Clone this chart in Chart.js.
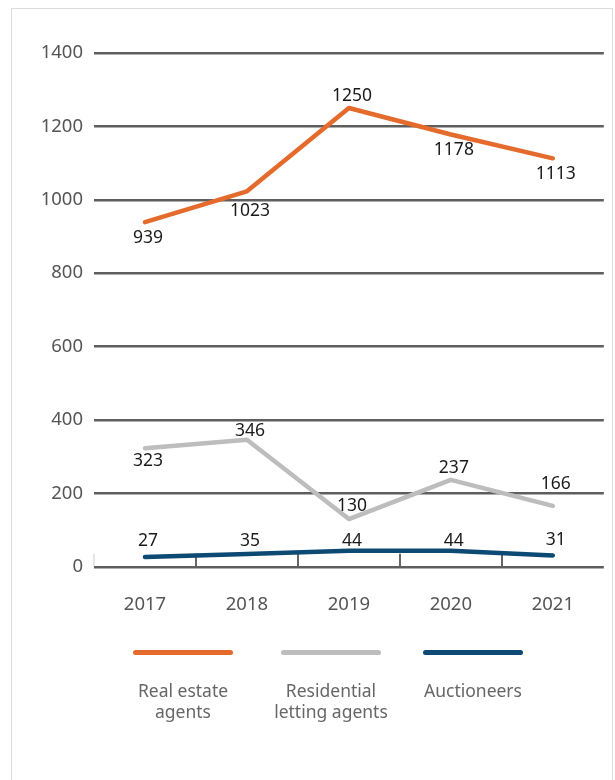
<!DOCTYPE html>
<html>
<head>
<meta charset="utf-8">
<script src="https://cdn.jsdelivr.net/npm/chart.js@4.4.0/dist/chart.umd.min.js"></script>
<style>
  html, body { margin: 0; padding: 0; background: #fff; }
  body { width: 615px; height: 780px; position: relative; overflow: hidden; font-family: "Noto Sans", sans-serif; }
  .frame {
    position: absolute; left: 11px; top: 8px; width: 602px; height: 790px;
    border: 1px solid #dcdcdc; box-sizing: border-box;
  }
  .plot { position: absolute; left: 0; top: 0; width: 602px; height: 647px; }
  .legend { position: absolute; left: 0; top: 0; width: 615px; height: 780px; pointer-events: none; }
  .legend-item { position: absolute; top: 650px; width: 170px; text-align: center; }
  .legend-item .swatch { width: 100px; height: 5px; border-radius: 3px; margin: 0 auto; }
  .legend-item .name { margin-top: 25px; font-size: 17.5px; line-height: 21px; color: #666; }
</style>
</head>
<body>
<div class="frame">
  <div class="plot"><canvas id="chart"></canvas></div>
</div>
<div class="legend" id="legend"></div>

<script>
// ---------- Data ----------

const years = ['2017', '2018', '2019', '2020', '2021'];

const realEstateAgents   = [939, 1023, 1250, 1178, 1113];
const lettingAgents      = [323, 346, 130, 237, 166];
const auctioneers        = [27, 35, 44, 44, 31];

const seriesNames = [
  ['Real estate', 'agents'],
  ['Residential', 'letting agents'],
  ['Auctioneers'],
];

const yTicks = [0, 200, 400, 600, 800, 1000, 1200, 1400];

// ---------- Style ----------

const COLORS = ['#e46b2c', '#bdbdbd', '#0c4a73'];
const LEGEND_CENTERS = [183, 331, 473];

// vertical nudge (px) of each value label from its point
const labelShift = [
  [16, 20, -12, 16, 16],
  [13, -9, -13, -12, -22],
  [-16, -13, -10, -10, -15],
];

// ---------- Value labels ----------

const valueLabels = {
  id: 'valueLabels',
  afterDatasetsDraw(chart) {
    const { ctx } = chart;
    ctx.save();
    ctx.font = '17.5px "Noto Sans", sans-serif';
    ctx.fillStyle = '#1a1a1a';
    ctx.textAlign = 'center';
    ctx.textBaseline = 'middle';
    chart.data.datasets.forEach((ds, di) => {
      const meta = chart.getDatasetMeta(di);
      meta.data.forEach((pt, i) => {
        ctx.fillText(String(ds.data[i]), pt.x + 3, pt.y + labelShift[di][i]);
      });
    });
    ctx.restore();
  },
};

// ---------- Chart ----------

const datasets = [realEstateAgents, lettingAgents, auctioneers].map((data, i) => ({
  label: seriesNames[i].join(' '),
  data,
  borderColor: COLORS[i],
  backgroundColor: COLORS[i],
  borderWidth: 4.5,
  borderCapStyle: 'round',
  borderJoinStyle: 'round',
  pointRadius: 0,
  tension: 0,
  fill: false,
}));

new Chart(document.getElementById('chart'), {
  type: 'line',
  data: { labels: years, datasets },
  plugins: [valueLabels],
  options: {
    responsive: true,
    maintainAspectRatio: false,
    animation: false,
    layout: { padding: { top: 44, right: 0, left: 0, bottom: 0 } },
    plugins: {
      legend: { display: false },
      tooltip: { enabled: false },
    },
    scales: {
      x: {
        offset: true,
        border: { display: false },
        grid: {
          offset: true,
          drawOnChartArea: false,
          drawTicks: true,
          tickLength: -13,
          lineWidth: 2,
          color: (c) => c.type === 'tick' ? (c.index === 0 ? '#e6e6e6' : '#666') : 'rgba(0,0,0,0)',
        },
        ticks: {
          color: '#555',
          font: { family: '"Noto Sans", sans-serif', size: 18.5 },
          padding: 40,
        },
      },
      y: {
        min: 0,
        max: 1400,
        afterBuildTicks: (scale) => { scale.ticks = yTicks.map(v => ({ value: v })); },
        afterFit: (scale) => { scale.width = 82; },
        border: { display: false },
        grid: {
          drawTicks: false,
          lineWidth: 2.5,
          color: '#5e5e5e',
        },
        ticks: {
          color: '#555',
          font: { family: '"Noto Sans", sans-serif', size: 18.5 },
          padding: 11,
          callback: (v) => String(v),
        },
      },
    },
  },
});

// ---------- Legend ----------

document.getElementById('legend').innerHTML = seriesNames.map((name, i) => `
  <div class="legend-item" style="left:${LEGEND_CENTERS[i] - 85}px">
    <div class="swatch" style="background:${COLORS[i]}"></div>
    <div class="name">${name.join('<br>')}</div>
  </div>
`).join('');
</script>
</body>
</html>
